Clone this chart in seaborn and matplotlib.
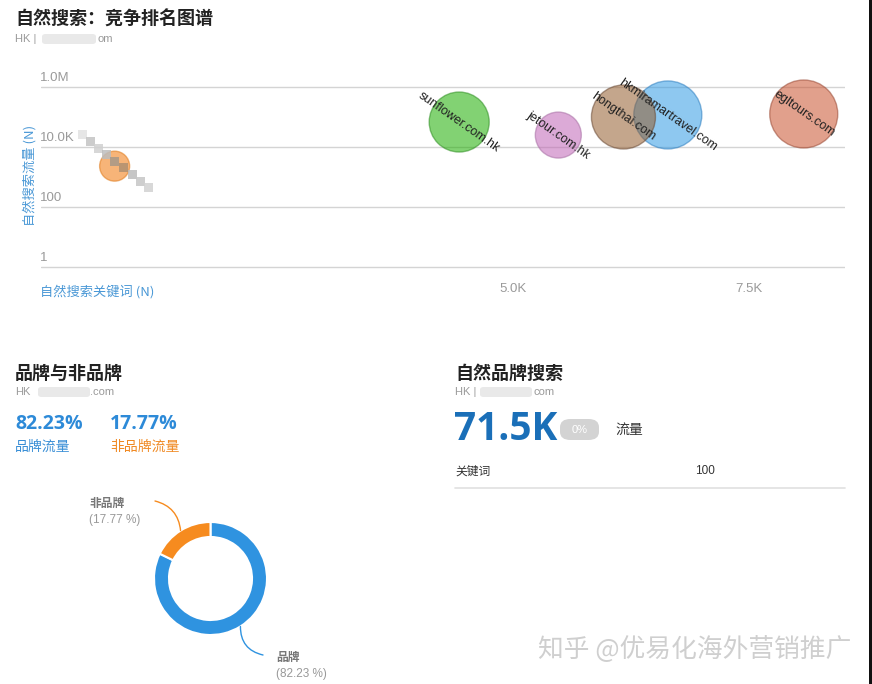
import matplotlib
matplotlib.use("Agg")
import matplotlib.pyplot as plt
import seaborn as sns
import pandas as pd
import numpy as np
from matplotlib.patches import Rectangle, FancyBboxPatch
from matplotlib import transforms as mtrans

# ---------------- data ----------------
domains = ["", "sunflower.com.hk", "jetour.com.hk", "hkmiramartravel.com", "hongthai.com", "egltours.com"]
keywords = [780, 4430, 5480, 6640, 6170, 8080]          # 自然搜索关键词
traffic = [2300, 68000, 25000, 117000, 100000, 126000]   # 自然搜索流量
bubble = [225, 900, 529, 1156, 1024, 1156]               # bubble size (relative)
fills = ["#f17709", "#1cad00", "#c065b6", "#329be4", "#945d2e", "#c9522e"]
edges = ["#e07a1a", "#2f8f22", "#a870a5", "#2f7fc0", "#6a4a35", "#9a4a35"]

y_ticks = [1, 100, 10000, 1000000]
y_tick_labels = ["1", "100", "10.0K", "1.0M"]
x_ticks = [5000, 7500]
x_tick_labels = ["5.0K", "7.5K"]

brand_labels = ["品牌", "非品牌"]
brand_share = [82.23, 17.77]
brand_colors = ["#2f93e0", "#f68b1f"]

brand_traffic = "71.5K"
brand_change = "0%"
brand_keywords = 100

# ---------------- figure ----------------
W, H = 872, 684
sns.set_theme(style="white")
plt.rcParams["font.family"] = ["Noto Sans CJK SC", "DejaVu Sans"]
fig = plt.figure(figsize=(W / 100, H / 100), dpi=100)
fig.patch.set_facecolor("white")


def fx(x):
    return x / W


def fy(y):
    return 1 - y / H


def ftext(x, y, s, **kw):
    kw.setdefault("va", "center")
    kw.setdefault("ha", "left")
    return fig.text(fx(x), fy(y), s, **kw)


def blur(x0, y0, w, h, color="#e4e4e4"):
    fig.patches.append(FancyBboxPatch((fx(x0), fy(y0 + h)), w / W, h / H,
                                      boxstyle="round,pad=0,rounding_size=0.004",
                                      transform=fig.transFigure, facecolor=color,
                                      edgecolor="none", alpha=0.8))


GREY = "#9a9a9a"
BLUE_LBL = "#4a98d6"

# ---------------- top: bubble chart ----------------
ftext(15, 19, "自然搜索：竞争排名图谱", fontsize=13, fontweight="bold", color="#222222")
ftext(15, 39, "HK |", fontsize=8, color=GREY, family="Liberation Sans")
blur(42, 34, 54, 10)
ftext(97, 39, "om", fontsize=8, color=GREY, family="Liberation Sans")

# axes geometry: 30 px per decade; 1 at y=267, 1e6 at y=87; x: 0 at 41, 94.4 px per 1K
top_px, bot_px = 80, 272
left_px, right_px = 41, 845
ax = fig.add_axes([fx(left_px), fy(bot_px), (right_px - left_px) / W, (bot_px - top_px) / H])
ymax = 10 ** (6 + (87 - top_px) / 30)
ymin = 10 ** (0 - (bot_px - 267) / 30)
ax.set_yscale("log")
ax.set_ylim(ymin, ymax)
ax.set_xlim(0, (right_px - left_px) / 94.4 * 1000)

df = pd.DataFrame({"domain": [d if d else "hidden" for d in domains],
                   "keywords": keywords, "traffic": traffic, "bubble": bubble})
r2s = (2 * 0.72) ** 2
sns.scatterplot(data=df, x="keywords", y="traffic", hue="domain", size="bubble",
                sizes=(min(bubble) * r2s, max(bubble) * r2s), palette=fills,
                alpha=0.55, legend=False, ax=ax, clip_on=False, zorder=3, linewidth=1)
coll = ax.collections[0]
coll.set_edgecolors(edges)
coll.set_clip_on(False)

for d, kx, ty in zip(domains, keywords, traffic):
    if d:
        ax.text(kx, ty, d, rotation=-35, rotation_mode="anchor", ha="center", va="center",
                fontsize=9, color="#222222", family="Liberation Sans", zorder=5, clip_on=False)

# masked label of the first bubble (pixelated in reference)
mosaic = [(78, 130, "#e2e2e2"), (86, 137, "#c4c4c4"), (94, 144, "#d0d0d0"), (102, 150, "#bdbdbd"),
          (110, 157, "#a89888"), (119, 163, "#b09070"), (128, 170, "#bcbcbc"), (136, 177, "#c6c6c6"),
          (144, 183, "#d2d2d2")]
for mx, my, mc in mosaic:
    fig.patches.append(Rectangle((fx(mx), fy(my + 9)), 9 / W, 9 / H, transform=fig.transFigure,
                                 facecolor=mc, edgecolor="none", alpha=0.85, zorder=6))

ax.set_yticks(y_ticks)
ax.set_yticklabels([])
ax.set_xticks(x_ticks)
ax.set_xticklabels(x_tick_labels, fontsize=9.5, color=GREY, family="Liberation Sans")
ax.tick_params(axis="both", length=0)
ax.tick_params(axis="x", pad=(284 - bot_px) - 4)
ax.grid(axis="y", color="#d4d4d4", linewidth=1)
ax.grid(axis="x", visible=False)
for s in ax.spines.values():
    s.set_visible(False)
ax.set_xlabel("")
ax.set_ylabel("")
ax.patch.set_alpha(0)

off = mtrans.offset_copy(ax.get_yaxis_transform(), fig=fig, x=0, y=2, units="points")
for v, lab in zip(y_ticks, y_tick_labels):
    ax.text(-0.001, v, lab, transform=off, ha="left", va="bottom", fontsize=9.5,
            color=GREY, family="Liberation Sans")

ftext(40, 292, "自然搜索关键词 (N)", fontsize=9.5, color=BLUE_LBL)
ftext(30, 175, "自然搜索流量 (N)", fontsize=9.5, color=BLUE_LBL, rotation=90, ha="center")

# ---------------- bottom left: brand vs non-brand ----------------
ftext(15, 373, "品牌与非品牌", fontsize=13, fontweight="bold", color="#222222")
ftext(15, 392, "HK", fontsize=8, color=GREY, family="Liberation Sans")
blur(38, 387, 52, 10)
ftext(90, 392, ".com", fontsize=8, color=GREY, family="Liberation Sans")

ftext(15, 424, f"{brand_share[0]:.2f}%", fontsize=14, fontweight="bold", color="#2d8ad8",
      family="Open Sans")
ftext(110, 424, f"{brand_share[1]:.2f}%", fontsize=14, fontweight="bold", color="#2d8ad8",
      family="Open Sans")
ftext(15, 447, "品牌流量", fontsize=10, color="#3a8fd6")
ftext(110, 447, "非品牌流量", fontsize=10, color="#f08a24")

R = 56.5
cx, cy = 210.5, 578.5
pax = fig.add_axes([fx(cx - R), fy(cy + R), 2 * R / W, 2 * R / H])
wedges, _ = pax.pie(brand_share, colors=brand_colors, startangle=90, counterclock=False,
                    wedgeprops=dict(width=15 / R, edgecolor="white", linewidth=1.5))
pax.set_xlim(-1, 1)
pax.set_ylim(-1, 1)
pax.set_aspect("equal")
pax.axis("off")

# leader lines and labels
label_pos = {"非品牌": ((155, 501), (89, 503), "arc3,rad=-0.35"),
             "品牌": ((263, 655), (276, 657), "arc3,rad=-0.4")}
angle = 90.0
for lab, share, col in zip(brand_labels, brand_share, brand_colors):
    mid = angle - share * 3.6 / 2
    angle -= share * 3.6
    px_, py_ = np.cos(np.radians(mid)), np.sin(np.radians(mid))
    (lx, ly), (tx, ty), cs = label_pos[lab]
    pax.annotate("", xy=(px_, py_), xycoords="data",
                 xytext=(fx(lx), fy(ly)), textcoords="figure fraction",
                 arrowprops=dict(arrowstyle="-", color=col, lw=1, connectionstyle=cs,
                                 shrinkA=0, shrinkB=0), annotation_clip=False)
    ftext(tx, ty, lab, fontsize=8.5, color="#777777", fontweight="bold")
    ftext(tx, ty + 17, f"({share:.2f} %)", fontsize=8.5, color="#999999", family="Liberation Sans")

# ---------------- bottom right: brand organic search ----------------
ftext(455, 373, "自然品牌搜索", fontsize=13, fontweight="bold", color="#222222")
ftext(455, 392, "HK |", fontsize=8, color=GREY, family="Liberation Sans")
blur(480, 387, 52, 10)
ftext(533, 392, "com", fontsize=8, color=GREY, family="Liberation Sans")

ftext(454, 430, brand_traffic, fontsize=28, fontweight="bold", color="#1a6fb8",
      family="Open Sans")
fig.patches.append(FancyBboxPatch((fx(560), fy(440)), 39 / W, 21 / H,
                                  boxstyle="round,pad=0,rounding_size=0.012",
                                  transform=fig.transFigure, facecolor="#d3d3d3", edgecolor="none"))
ftext(579.5, 430, brand_change, fontsize=8, color="white", ha="center", family="Liberation Sans")
ftext(615, 430, "流量", fontsize=10, color="#333333")
ftext(455, 471, "关键词", fontsize=8.5, color="#333333")
ftext(695, 471, f"{brand_keywords}", fontsize=8.5, color="#333333", family="Liberation Sans")
fig.add_artist(plt.Line2D([fx(455), fx(845)], [fy(488), fy(488)], color="#e0e0e0", lw=1.2,
                          transform=fig.transFigure))

# watermark and right border
ftext(538, 650, "知乎 @优易化海外营销推广", fontsize=18.5, color="#cfcfcf")
fig.patches.append(Rectangle((fx(869), 0), 3 / W, 1, transform=fig.transFigure,
                             facecolor="#111111", edgecolor="none"))

fig.savefig("out.png", dpi=100, facecolor="white")
